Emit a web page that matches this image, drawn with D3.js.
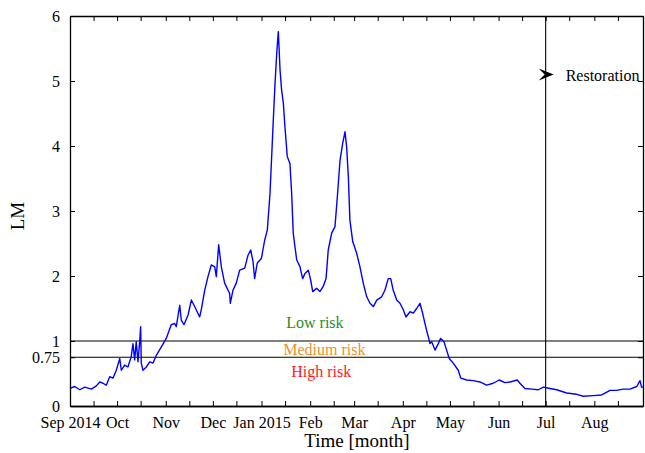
<!DOCTYPE html>
<html>
<head>
<meta charset="utf-8">
<script src="https://cdn.jsdelivr.net/npm/d3@7"></script>
<style>
  body { margin: 0; background: #fff; }
  text { font-family: "Liberation Serif", "Times New Roman", serif; }
</style>
</head>
<body>
<div id="my_dataviz"></div>
<script>
// LM series: days since 1 Sep 2014 and the value
var days = [0, 3.0, 6.2, 9.4, 13.6, 16.8, 18.9, 21.0, 23.1, 25.3, 27.4, 29.5, 31.7, 32.7, 34.8, 36.9,
  39.0, 40.1, 41.2, 42.2, 43.3, 44.4, 45.0, 45.4, 46.5, 48.6, 50.8, 52.9, 55.0, 58.2, 61.3, 64.5,
  66.7, 67.7, 69.9, 70.9, 72.6, 75.2, 77.3, 79.4, 82.6, 83.6, 85.8, 87.9, 90.0, 92.2, 93.2, 94.7,
  96.4, 98.5, 101.7, 102.1, 103.8, 105.9, 108.1, 111.3, 113.4, 115.1, 116.6, 117.6, 119.3, 121.9,
  124.0, 125.7, 127.4, 129.5, 130.6, 131.7, 132.7, 133.8, 134.8, 135.9, 136.9, 138.4, 140.1, 141.2,
  142.2, 143.3, 144.4, 146.5, 148.2, 149.7, 151.8, 153.3, 154.6, 157.1, 159.2, 161.3, 163.1, 164.5,
  166.7, 168.8, 170.3, 172.0, 173.7, 175.2, 176.2, 177.3, 178.3, 180.1, 182.6, 184.7, 186.8, 189.0,
  191.1, 193.2, 195.4, 198.5, 200.6, 202.7, 204.3, 205.9, 208.1, 210.2, 212.3, 214.0, 216.6, 218.7,
  220.8, 222.9, 224.6, 226.1, 227.6, 228.2, 229.3, 230.4, 232.5, 234.6, 236.1, 238.2, 239.9, 241.6,
  244.1, 247.3, 248.9, 252.7, 256.9, 261.1, 265.4, 269.6, 273.4, 277.1, 280.3, 284.9, 286.6, 289.8,
  294.1, 298.3, 301.5, 305.7, 310.0, 316.4, 322.7, 327.0, 333.3, 338.7, 344.0, 348.2, 352.5, 356.7,
  361.0, 363.1, 364.1, 365];
var lm = [0.27, 0.30, 0.25, 0.29, 0.26, 0.31, 0.37, 0.35, 0.32, 0.45, 0.43, 0.55, 0.73, 0.55, 0.63, 0.60,
  0.76, 0.96, 0.71, 0.99, 0.68, 0.99, 1.22, 0.66, 0.55, 0.60, 0.68, 0.66, 0.78, 0.91, 1.04, 1.25,
  1.27, 1.22, 1.55, 1.32, 1.25, 1.40, 1.63, 1.53, 1.37, 1.48, 1.78, 1.99, 2.17, 2.14, 1.99, 2.48,
  2.14, 1.89, 1.73, 1.58, 1.78, 1.89, 2.09, 2.12, 2.32, 2.40, 2.22, 1.96, 2.20, 2.27,
  2.55, 2.71, 3.27, 4.40, 4.96, 5.43, 5.76, 5.17, 4.86, 4.66, 4.30, 3.84, 3.73, 3.27,
  2.66, 2.45, 2.25, 2.14, 1.96, 2.04, 2.09, 1.94, 1.76, 1.81, 1.76, 1.84, 1.96, 2.40,
  2.66, 2.76, 3.22, 3.78, 4.04, 4.22, 3.99, 3.53, 2.86, 2.53, 2.35, 2.14, 1.89, 1.68,
  1.58, 1.53, 1.63, 1.68, 1.78, 1.96, 1.96, 1.78, 1.63, 1.58, 1.48, 1.37, 1.45, 1.43,
  1.50, 1.58, 1.43, 1.27, 1.12, 1.07, 0.96, 0.99, 0.86, 0.96, 1.04, 0.99, 0.86, 0.73,
  0.66, 0.55, 0.43, 0.40, 0.39, 0.37, 0.32, 0.35, 0.40, 0.36, 0.37, 0.40, 0.35, 0.27,
  0.26, 0.25, 0.29, 0.27, 0.25, 0.20, 0.18, 0.15, 0.16, 0.17, 0.24, 0.24, 0.26, 0.26,
  0.30, 0.39, 0.29, 0.29];

var yTicks = [0, 0.75, 1, 2, 3, 4, 5, 6];
var thresholds = [1, 0.75];
var riskLabels = ["Low risk", "Medium risk", "High risk"];
var riskColors = ["#2a8a2a", "#e8922c", "#ff1a1a"];
var riskDays = [156, 162, 160];       // where the risk labels sit (days)
var riskLevels = [1.2, 0.79, 0.44];   // and at what LM level
var restorationDay = 303;             // 1 Jul 2015

// set the dimensions and margins of the graph
var margin = {top: 16, right: 2, bottom: 47, left: 70},
    width = 645 - margin.left - margin.right,
    height = 453 - margin.top - margin.bottom;

var svg = d3.select("#my_dataviz")
  .append("svg")
    .attr("width", 645)
    .attr("height", 453)
  .append("g")
    .attr("transform", "translate(" + margin.left + "," + margin.top + ")");

var start = new Date(Date.UTC(2014, 8, 1)),
    end = new Date(Date.UTC(2015, 8, 1));
function dayToDate(d) { return new Date(start.getTime() + d * 864e5); }

var x = d3.scaleUtc().domain([start, end]).range([0, width]);
var y = d3.scaleLinear().domain([0, 6]).range([height, 0]);

var data = days.map(function(d, i) { return {date: dayToDate(d), v: lm[i]}; });

// month ticks + mid-month minor ticks
var months = d3.utcMonth.range(start, d3.utcDay.offset(end, 1));
var mids = d3.utcMonth.range(start, end).map(function(m) { return d3.utcDay.offset(m, 15); });
var fmt = function(d) {
  var m = d3.utcFormat("%b")(d);
  if (d.getUTCMonth() === 8 && d.getUTCFullYear() === 2014) return "Sep 2014";
  if (d.getUTCMonth() === 0) return "Jan 2015";
  if (d.getTime() === end.getTime()) return "";
  return m;
};

// threshold lines
svg.selectAll(".thr")
  .data(thresholds)
  .enter().append("line")
    .attr("x1", 0).attr("x2", width)
    .attr("y1", function(d) { return y(d); })
    .attr("y2", function(d) { return y(d); })
    .attr("stroke", "black")
    .attr("stroke-width", 1.1);

// restoration line
svg.append("line")
  .attr("x1", x(dayToDate(restorationDay))).attr("x2", x(dayToDate(restorationDay)))
  .attr("y1", 0).attr("y2", height)
  .attr("stroke", "black")
  .attr("stroke-width", 1.1);

// the LM line
svg.append("path")
  .datum(data)
  .attr("fill", "none")
  .attr("stroke", "#0000ff")
  .attr("stroke-width", 1.4)
  .attr("stroke-linejoin", "round")
  .attr("d", d3.line()
    .x(function(d) { return x(d.date); })
    .y(function(d) { return y(d.v); }));

// risk labels
svg.selectAll(".risk")
  .data(riskLabels)
  .enter().append("text")
    .attr("x", function(d, i) { return x(dayToDate(riskDays[i])); })
    .attr("y", function(d, i) { return y(riskLevels[i]); })
    .attr("text-anchor", "middle")
    .style("font-size", "16px")
    .style("fill", function(d, i) { return riskColors[i]; })
    .text(function(d) { return d; });

// arrow + Restoration label
var ax = x(dayToDate(restorationDay)), ay = y(5.1);
svg.append("path")
  .attr("d", "M" + (ax + 8) + "," + ay + " L" + (ax - 7) + "," + (ay - 6) +
    " L" + (ax - 1) + "," + ay + " L" + (ax - 7) + "," + (ay + 6) + "Z")
  .attr("fill", "black");
svg.append("text")
  .attr("x", ax + 20)
  .attr("y", y(5.1) + 6)
  .style("font-size", "16px")
  .text("Restoration");

// axes (ticks inward, mirrored on top/right)
function styleAxis(g) {
  g.selectAll("path").attr("stroke", "black").attr("stroke-width", 1.3);
  g.selectAll("line").attr("stroke", "black").attr("stroke-width", 1);
  g.selectAll("text").style("font-family", "Liberation Serif, serif")
    .style("font-size", "16px").attr("fill", "black");
}

var gx = svg.append("g")
  .attr("transform", "translate(0," + height + ")")
  .call(d3.axisBottom(x).tickValues(months).tickFormat(fmt).tickSizeInner(-5).tickSizeOuter(0).tickPadding(11));
gx.call(styleAxis);
svg.append("g")
  .attr("transform", "translate(0," + height + ")")
  .call(d3.axisBottom(x).tickValues(mids).tickFormat("").tickSizeInner(-5).tickSizeOuter(0))
  .call(styleAxis);
svg.append("g")
  .call(d3.axisTop(x).tickValues(months.concat(mids)).tickFormat("").tickSizeInner(-5).tickSizeOuter(0))
  .call(styleAxis);

svg.append("g")
  .call(d3.axisLeft(y).tickValues(yTicks).tickFormat(d3.format("")).tickSizeInner(-5).tickSizeOuter(0).tickPadding(10))
  .call(styleAxis);
svg.append("g")
  .attr("transform", "translate(" + width + ",0)")
  .call(d3.axisRight(y).tickValues(yTicks).tickFormat("").tickSizeInner(-5).tickSizeOuter(0))
  .call(styleAxis);

// axis titles
svg.append("text")
  .attr("text-anchor", "middle")
  .attr("x", 357 - margin.left)
  .attr("y", 447 - margin.top)
  .style("font-size", "19px")
  .text("Time [month]");

svg.append("text")
  .attr("text-anchor", "middle")
  .attr("transform", "rotate(-90)")
  .attr("x", -(216 - margin.top))
  .attr("y", 24 - margin.left)
  .style("font-size", "19px")
  .text("LM");
</script>
</body>
</html>
